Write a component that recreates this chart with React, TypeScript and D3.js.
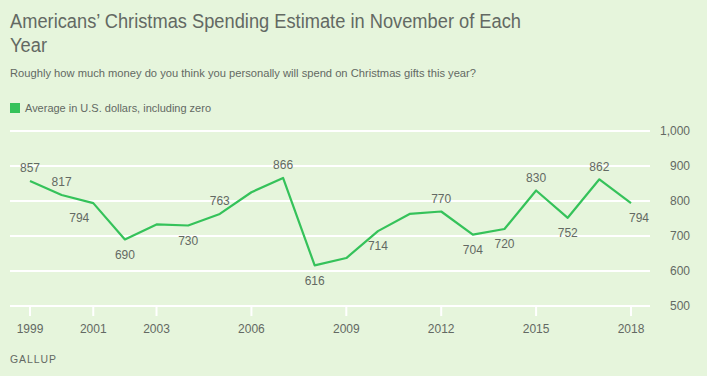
import React from "react";
import * as d3 from "d3";

const years = [1999, 2000, 2001, 2002, 2003, 2004, 2005, 2006, 2007, 2008, 2009, 2010, 2011, 2012, 2013, 2014, 2015, 2016, 2017, 2018];
const values = [857, 817, 794, 690, 733, 730, 763, 825, 866, 616, 637, 714, 763, 770, 704, 720, 830, 752, 862, 794];
const showLabel = [true, true, true, true, false, true, true, false, true, true, false, true, false, true, true, true, true, true, true, true];
const labelSide = ["above", "above", "below-left", "below", "", "below", "above", "", "above", "below", "", "below", "", "above", "below", "below", "above", "below", "above", "below-right"];
const xTickYears = [1999, 2001, 2003, 2006, 2009, 2012, 2015, 2018];
const yTicks = [500, 600, 700, 800, 900, 1000];

const W = 707, H = 376;
const FONT = "'Liberation Sans', Arial, Helvetica, sans-serif";
const TXT = "#636963";
const GREEN = "#35c25a";
const BG = "#e6f5dc";

export default function App() {
  const x = d3.scaleLinear().domain([1999, 2018]).range([30, 631]);
  const y = d3.scaleLinear().domain([500, 1000]).range([306, 131]);
  const line = d3.line<number>().x((_, i) => x(years[i])).y((d) => y(d));
  const fmt = d3.format(",");

  return (
    <svg width={W} height={H} style={{ position: "absolute", left: 0, top: 0, background: BG }} fontFamily={FONT}>
      <rect width={W} height={H} fill={BG} />
      <text x={10} y={28} fontSize={20} fill={TXT} textLength={511} lengthAdjust="spacingAndGlyphs">Americans’ Christmas Spending Estimate in November of Each</text>
      <text x={10} y={52} fontSize={20} fill={TXT} textLength={37} lengthAdjust="spacingAndGlyphs">Year</text>
      <text x={10} y={77} fontSize={11.5} fill={TXT} textLength={466} lengthAdjust="spacingAndGlyphs">Roughly how much money do you think you personally will spend on Christmas gifts this year?</text>
      <rect x={10} y={103} width={10} height={10} fill={GREEN} />
      <text x={25} y={112} fontSize={11.5} fill={TXT} textLength={186} lengthAdjust="spacingAndGlyphs">Average in U.S. dollars, including zero</text>

      {yTicks.map((t) => (
        <g key={t}>
          <line x1={10} x2={650} y1={y(t)} y2={y(t)} stroke="#fff" strokeWidth={2} />
          <text x={690} y={y(t)} dy="0.35em" textAnchor="end" fontSize={12} fill={TXT}>{fmt(t)}</text>
        </g>
      ))}
      {xTickYears.map((t) => (
        <g key={t}>
          <line x1={x(t)} x2={x(t)} y1={306} y2={316} stroke="#fff" strokeWidth={2} />
          <text x={x(t)} y={333} textAnchor="middle" fontSize={12} fill={TXT}>{t}</text>
        </g>
      ))}

      <path d={line(values) || ""} fill="none" stroke={GREEN} strokeWidth={2.2} strokeLinejoin="round" />

      {values.map((v, i) => {
        if (!showLabel[i]) return null;
        const side = labelSide[i];
        const px = x(years[i]);
        const py = y(v);
        const above = side === "above";
        const dx = side === "below-left" ? -14 : side === "below-right" ? 8 : 0;
        const ly = above ? py - 13 : py + 15;
        return (
          <text key={i} x={px + dx} y={ly} dy="0.35em" textAnchor="middle" fontSize={12} fill={TXT}>{v}</text>
        );
      })}

      <text x={10} y={363} fontSize={11} fill={TXT} letterSpacing={1} textLength={47} lengthAdjust="spacingAndGlyphs">GALLUP</text>
    </svg>
  );
}
